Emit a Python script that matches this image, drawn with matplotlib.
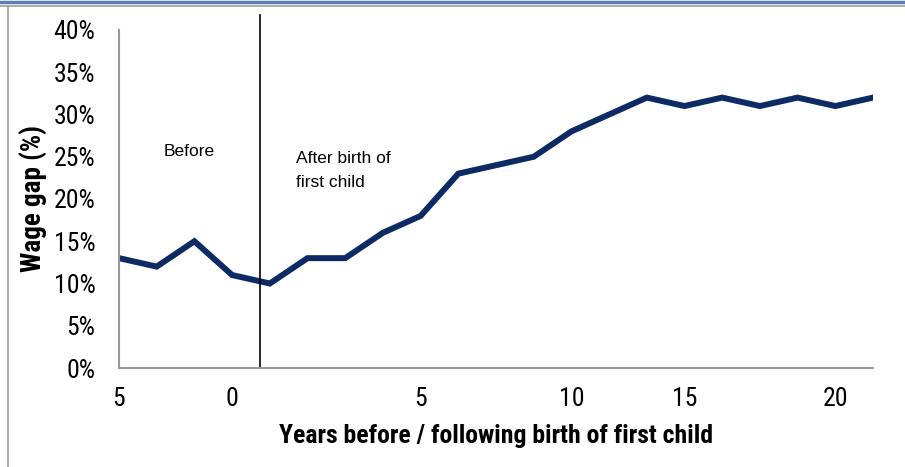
import matplotlib.pyplot as plt
from matplotlib.lines import Line2D
import numpy as np

# wage gap by year relative to first child (index positions on a category axis)
gap = [13, 12, 15, 11, 10, 13, 13, 16, 18, 23, 24, 25, 28, 30, 32, 31, 32, 31, 32, 31, 32]
tick_pos = [0, 3, 8, 12, 15, 19]
tick_labels = ["5", "0", "5", "10", "15", "20"]
birth_pos = 3.75

narrow = ["Roboto Condensed", "Archivo Narrow", "DejaVu Sans"]
plt.rcParams["font.family"] = ["Liberation Sans", "DejaVu Sans"]

fig = plt.figure(figsize=(9.05, 4.67), dpi=100)
ax = fig.add_axes([119/905, 1-368/467, (873-119)/905, (368-30)/467])

x = np.arange(len(gap))
ax.plot(x, gap, color="#0c2a64", lw=4.3, solid_joinstyle="miter")
ax.axvline(birth_pos, color="black", lw=1.2, ymax=1.045, clip_on=False)

ax.set_xlim(0, len(gap) - 1)
ax.set_ylim(0, 40)
ax.set_yticks(np.arange(0, 41, 5))
ax.set_yticklabels([f"{v}%" for v in range(0, 41, 5)], family=narrow, fontsize=18.5)
ax.set_xticks(tick_pos)
ax.set_xticklabels(tick_labels, family=narrow, fontsize=18.5)
ax.tick_params(axis="x", length=0, pad=14)
ax.tick_params(axis="y", length=0, pad=17)

for s in ["top", "right"]:
    ax.spines[s].set_visible(False)
for s in ["left", "bottom"]:
    ax.spines[s].set_color("#999999")
    ax.spines[s].set_linewidth(1.5)

ax.set_ylabel("Wage gap (%)", family=narrow, fontsize=19.5, fontweight="bold", labelpad=4)
ax.set_xlabel("Years before / following birth of first child", family=narrow,
              fontsize=18.5, fontweight="bold", labelpad=9)

ax.text(1.85, 25.6, "Before", fontsize=12.5, ha="center", va="center")
ax.text(4.7, 23.4, "After birth of\nfirst child", fontsize=12.5, ha="left", va="center",
        linespacing=1.75)

# frame decorations
fig.add_artist(Line2D([0, 1], [1 - 1.5/467, 1 - 1.5/467], color="#5b7fb5", lw=2.5))
fig.add_artist(Line2D([0, 1], [1 - 6/467, 1 - 6/467], color="#a0a0a0", lw=1.2))
fig.add_artist(Line2D([8/905, 8/905], [0, 1 - 6/467], color="#a0a0a0", lw=1.2))

fig.savefig("out.png", dpi=100)
